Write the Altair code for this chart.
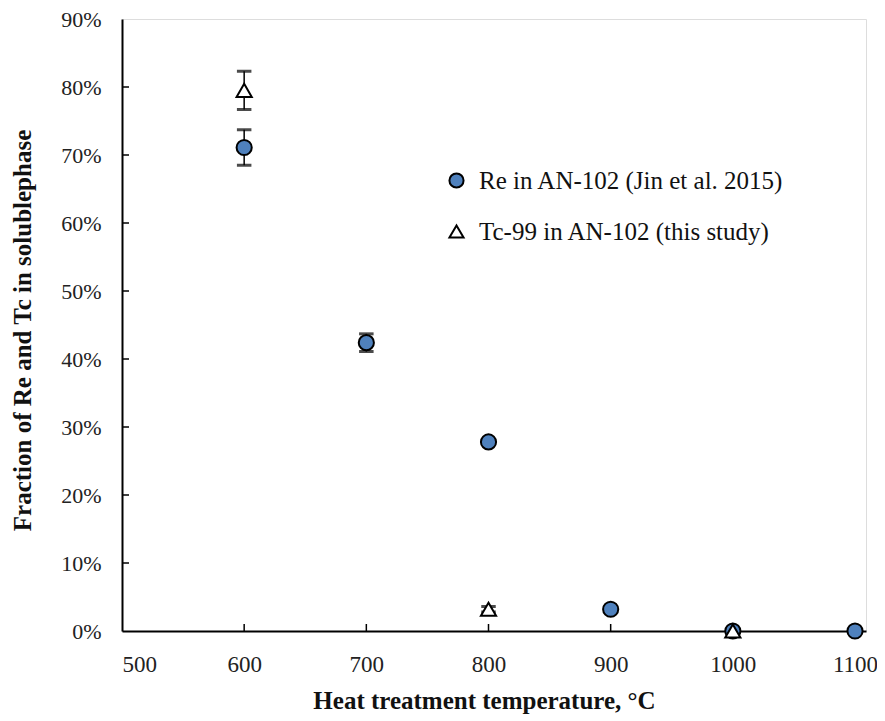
import altair as alt
import pandas as pd

# Data
re_temp = [600, 700, 800, 900, 1000, 1100]
re_frac = [0.711, 0.424, 0.278, 0.032, 0.0, 0.0]
re_err = [0.026, 0.013, 0.0, 0.0, 0.0, 0.0]

tc_temp = [600, 800, 1000]
tc_frac = [0.795, 0.032, 0.0]
tc_err = [0.028, 0.004, 0.0]

series_names = ["Re in AN-102 (Jin et al. 2015)", "Tc-99 in AN-102 (this study)"]
x_ticks = [500, 600, 700, 800, 900, 1000, 1100]
y_ticks = [0, 0.1, 0.2, 0.3, 0.4, 0.5, 0.6, 0.7, 0.8, 0.9]

rows = []
for t, f, e in zip(re_temp, re_frac, re_err):
    rows.append({"temp": t, "frac": f, "lo": f - e, "hi": f + e, "series": series_names[0]})
for t, f, e in zip(tc_temp, tc_frac, tc_err):
    rows.append({"temp": t, "frac": f, "lo": f - e, "hi": f + e, "series": series_names[1]})
df = pd.DataFrame(rows)
df_err = df[df["hi"] > df["lo"]]

xticks_df = pd.DataFrame({"temp": x_ticks[1:-1]})
yticks_df = pd.DataFrame({"frac": y_ticks[1:-1]})

FONT = "Liberation Serif"
YTITLE = "Fraction of Re and Tc in solublephase"
XTITLE = "Heat treatment temperature, °C"

xscale = alt.Scale(domain=[500, 1109], nice=False, zero=False)
yscale = alt.Scale(domain=[0, 0.9], nice=False)

x_axis = alt.Axis(values=x_ticks, title=XTITLE,
                  format="d", ticks=False, labelPadding=22,
                  labelFontSize=23, labelFont=FONT, labelColor="#222",
                  titleFont=FONT, titleFontSize=25, titleFontWeight="bold",
                  titleColor="#111", titleX=362, titleY=69, titleAlign="center",
                  titleBaseline="middle",
                  domainColor="black", domainWidth=2, grid=False)
y_axis = alt.Axis(values=y_ticks, format=".0%", title=YTITLE,
                  ticks=False, labelPadding=21,
                  labelFontSize=22, labelFont=FONT, labelColor="#222",
                  titleFont=FONT, titleFontSize=25, titleFontWeight="bold",
                  titleColor="#111", titleX=-100, titleY=311,
                  titleBaseline="middle", titleAngle=270,
                  domainColor="black", domainWidth=2, grid=False)

errbars = alt.Chart(df_err).mark_errorbar(ticks=alt.MarkConfig(size=13, stroke="black", strokeWidth=1.5),
                                          color="black", thickness=1.5).encode(
    x=alt.X("temp:Q", scale=xscale, axis=x_axis, title=XTITLE),
    y=alt.Y("lo:Q", scale=yscale, axis=y_axis, title=YTITLE),
    y2="hi:Q",
)

legend = alt.Legend(title=None, orient="none", legendX=322, legendY=149,
                    labelFont=FONT, labelFontSize=25, labelColor="#111",
                    labelLimit=500, symbolSize=200, symbolStrokeWidth=2,
                    rowPadding=25, labelOffset=10)

points = alt.Chart(df).mark_point(filled=False, opacity=1, strokeWidth=2).encode(
    x=alt.X("temp:Q", scale=xscale, axis=x_axis, title=XTITLE),
    y=alt.Y("frac:Q", scale=yscale, axis=y_axis, title=YTITLE),
    shape=alt.Shape("series:N", scale=alt.Scale(domain=series_names, range=["circle", "triangle-up"]),
                    legend=legend),
    fill=alt.Fill("series:N", scale=alt.Scale(domain=series_names, range=["#4F81BD", "white"]),
                  legend=legend),
    stroke=alt.Stroke("series:N", scale=alt.Scale(domain=series_names, range=["black", "black"]),
                      legend=legend),
    size=alt.value(230),
)

xticks_in = alt.Chart(xticks_df).mark_rule(color="black", strokeWidth=1.5).encode(
    x=alt.X("temp:Q", scale=xscale, axis=x_axis, title=XTITLE),
    y=alt.value(612),
    y2=alt.value(605),
)

yticks_in = alt.Chart(yticks_df).mark_rule(color="black", strokeWidth=1.5).encode(
    y=alt.Y("frac:Q", scale=yscale, axis=y_axis, title=YTITLE),
    x=alt.value(0),
    x2=alt.value(7),
)

chart = alt.layer(xticks_in, yticks_in, errbars, points).properties(
    width=744, height=612,
    autosize=alt.AutoSizeParams(type="none"),
    padding={"left": 114, "top": 11, "right": 11, "bottom": 90},
).configure_view(stroke="black", strokeWidth=2).configure(background="white")

chart.save("out.html", embed_options={"renderer": "svg", "actions": False})
